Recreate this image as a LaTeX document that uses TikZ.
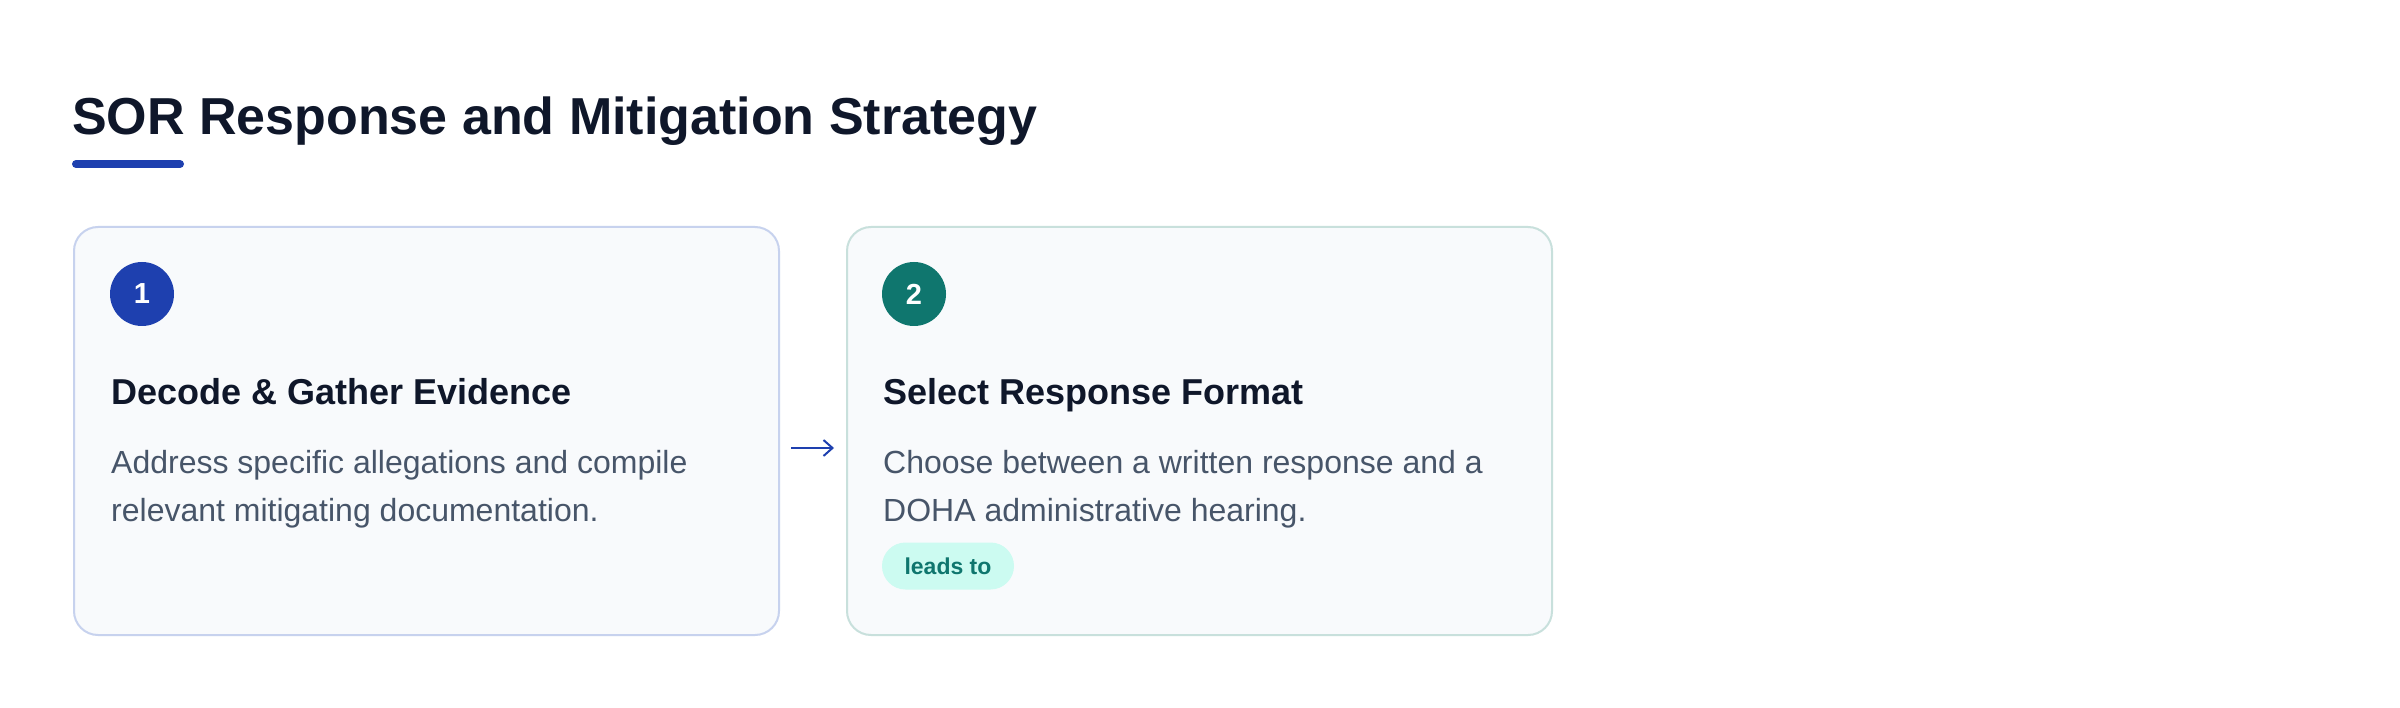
\documentclass[tikz,border=0pt]{standalone}
\usepackage{fontspec}
\setmainfont{Liberation Sans}
\usetikzlibrary{arrows.meta}
\definecolor{titlec}{HTML}{0F172A}
\definecolor{barc}{HTML}{1E40AF}
\definecolor{cardfill}{HTML}{F8FAFC}
\definecolor{borderA}{HTML}{C7D2EE}
\definecolor{borderB}{HTML}{C8E0DC}
\definecolor{bodyc}{HTML}{475569}
\definecolor{tealc}{HTML}{0F766E}
\definecolor{badgefill}{HTML}{CCFBF1}
\tikzset{
  card/.style={draw, line width=2pt, fill=cardfill, rounded corners=24pt, minimum width=705pt, minimum height=408pt, inner sep=0pt, anchor=north west},
  numdot/.style={circle, minimum size=64pt, inner sep=0pt, text=white, font=\fontsize{29}{34}\selectfont\bfseries},
  heading/.style={anchor=base west, inner sep=0pt, text=titlec, font=\fontsize{36}{43}\selectfont\bfseries},
  bodytext/.style={anchor=base west, inner sep=0pt, text=bodyc, align=left, font=\fontsize{32}{48}\selectfont},
  badge/.style={fill=badgefill, text=tealc, rounded corners=23.5pt, minimum width=132pt, minimum height=47pt, inner sep=0pt, font=\fontsize{23}{28}\selectfont\bfseries},
  flow/.style={draw=barc, line width=2pt, -{Straight Barb[length=9pt, width=16pt, line width=2pt]}}
}
\begin{document}
\begin{tikzpicture}[x=1pt, y=-1pt]
\useasboundingbox (0,0) rectangle (2400,708);
\fill[white] (0,0) rectangle (2400,708);
\node[anchor=base west, inner sep=0pt, text=titlec, font=\fontsize{52}{62}\selectfont\bfseries] (title) at (72,135) {SOR Response and Mitigation Strategy};
\draw[barc, line width=8pt, line cap=round] (76,164) -- (180,164);
\node[card, draw=borderA] (c1) at (73,226) {};
\node[card, draw=borderB] (c2) at (846,226) {};
\node[numdot, fill=barc] (n1) at (142,294) {1};
\node[numdot, fill=tealc] (n2) at (914,294) {2};
\node[heading] (h1) at (111,404) {Decode \& Gather Evidence};
\node[heading] (h2) at (883,404) {Select Response Format};
\node[bodytext] (b1) at (111,521) {Address specific allegations and compile\\relevant mitigating documentation.};
\node[bodytext] (b2) at (883,521) {Choose between a written response and a\\DOHA administrative hearing.};
\node[badge] (lead) at (948,566) {leads to};
\draw[flow, shorten <=11pt, shorten >=12pt] ([yshift=-17pt]c1.east) -- ([yshift=-17pt]c2.west);
\end{tikzpicture}
\end{document}
